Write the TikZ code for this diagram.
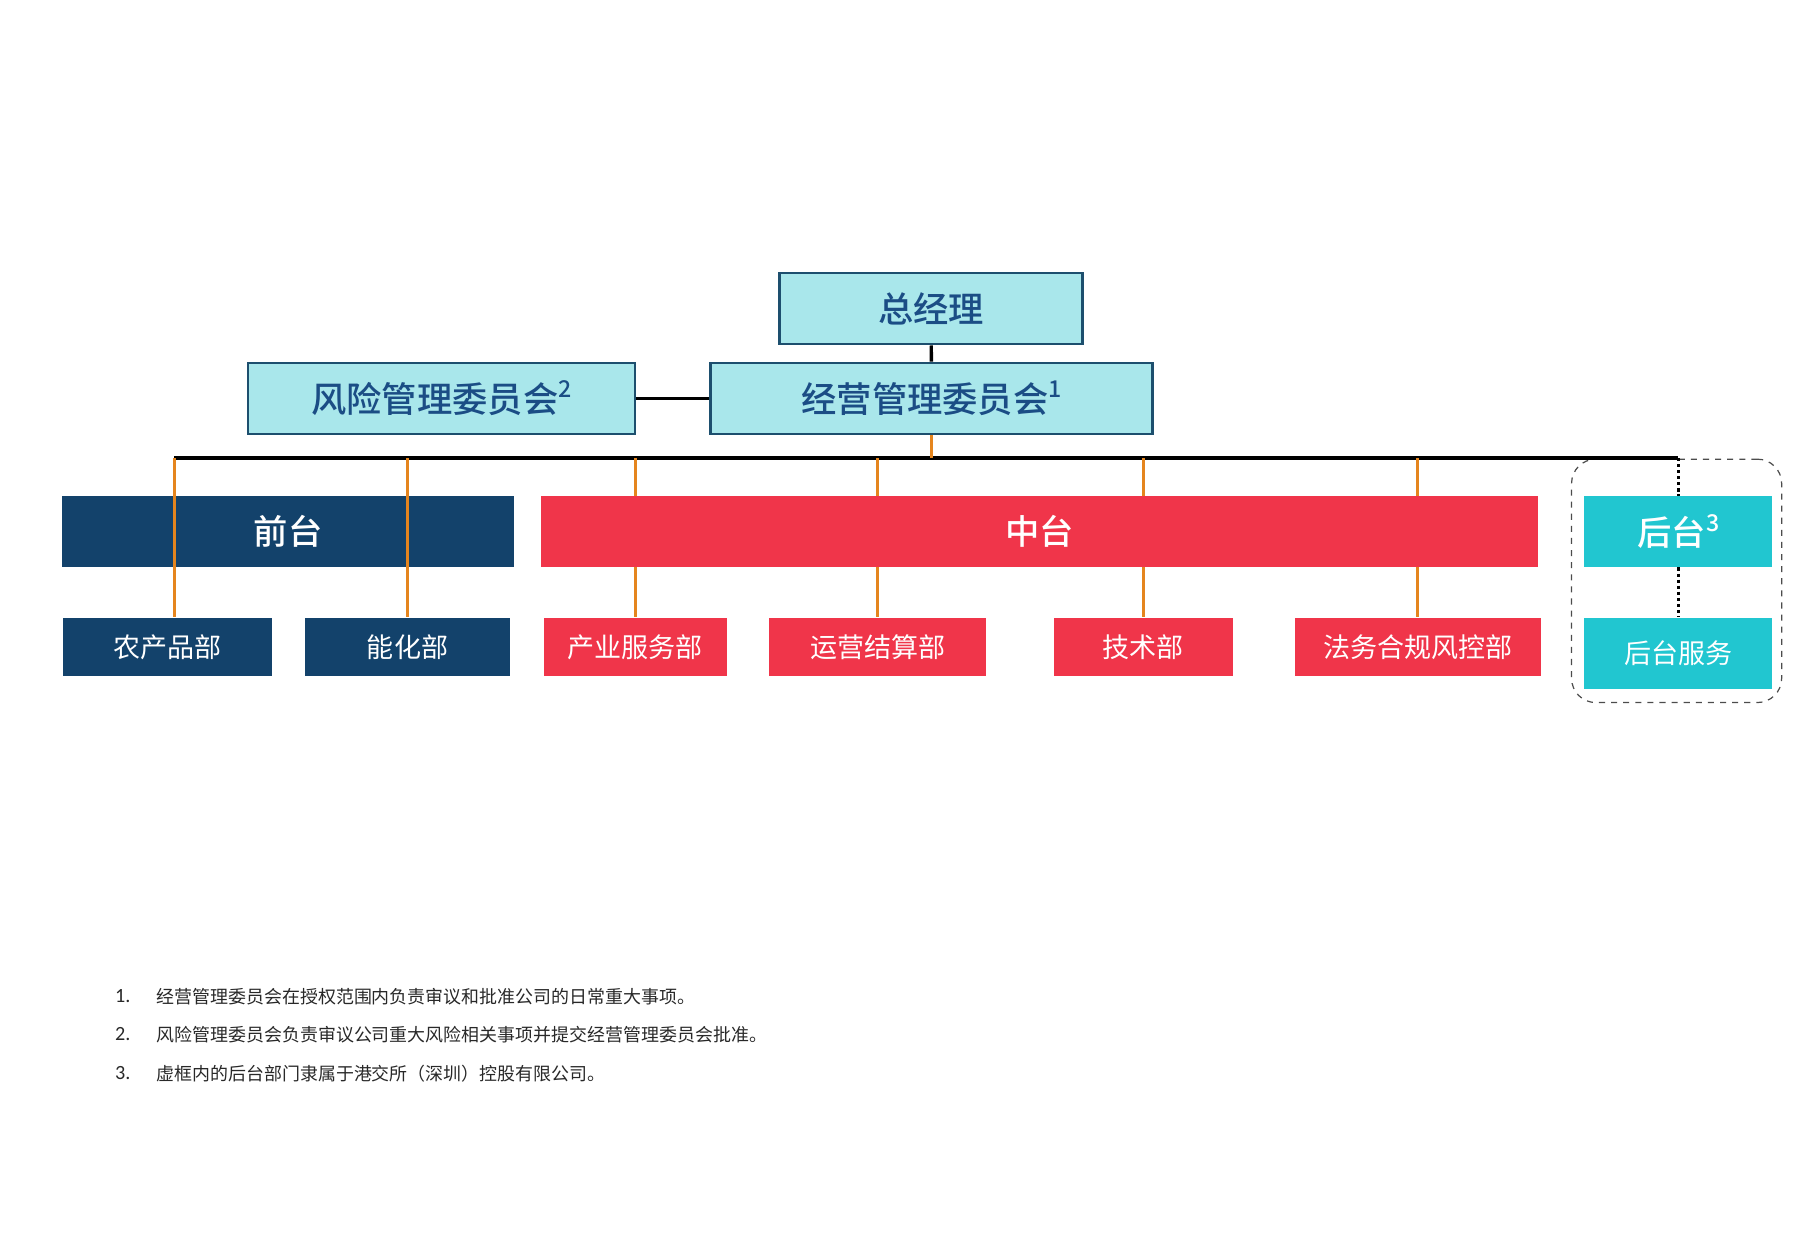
\documentclass[tikz,border=0pt]{standalone}
\usepackage{fontspec}
\setmainfont{Noto Sans CJK SC}[BoldFont={Noto Sans CJK SC Bold}]
\newfontfamily\medfont{Noto Sans CJK SC Medium}
\newfontfamily\numfont{Carlito}
\usepackage{tikz}
\usetikzlibrary{positioning, calc}
\definecolor{topcolor}{RGB}{169,231,235}
\definecolor{topborder}{RGB}{29,79,110}
\definecolor{toptext}{RGB}{27,77,133}
\definecolor{frontcolor}{RGB}{19,66,107}
\definecolor{middlecolor}{RGB}{240,53,74}
\definecolor{backcolor}{RGB}{33,198,208}
\definecolor{linkcolor}{RGB}{229,133,30}
\definecolor{notecolor}{RGB}{40,40,40}
\newcommand{\supnum}[1]{\raisebox{0.42em}{\medfont\fontsize{11.5pt}{12pt}\selectfont #1}}

\begin{document}
\begin{tikzpicture}[
    x=0.2mm, y=-0.2mm,
    board/.style={draw=topborder, line width=1.1pt, fill=topcolor, minimum height=12.4mm, inner sep=0pt, font=\fontsize{17.5pt}{20pt}\medfont, text=toptext},
    platform/.style={minimum height=12.4mm, inner sep=0pt, font=\fontsize{17pt}{20pt}\medfont, text=white},
    dept/.style={minimum height=10.2mm, inner sep=0pt, font=\fontsize{13.4pt}{16pt}\selectfont, text=white},
    busline/.style={line width=1.7pt, black},
    link/.style={line width=1.4pt, linkcolor},
    dotlink/.style={line width=1.7pt, black, dash pattern=on 1.6pt off 1.4pt},
    note/.style={anchor=west, inner sep=0pt, font=\fontsize{8.9pt}{11pt}\selectfont, text=notecolor}
]
    \useasboundingbox (0,0) rectangle (1568,1083);

    % Back office frame
    \node[draw=black!70, dashed, line width=0.6pt, rounded corners=12pt, minimum width=36.6mm, minimum height=42.4mm] (backframe) at (1460.5,506) {};

    % Management
    \node[board, minimum width=52.8mm] (gm) at (811,269) {总经理};
    \node[board, minimum width=77mm] (opcom) at (811.5,347) {经营管理委员会\supnum{1}};
    \node[board, minimum width=67.4mm] (riskcom) at (384.5,347) {风险管理委员会\supnum{2}};

    % Platforms
    \node[platform, fill=frontcolor, minimum width=78.8mm] (front) at (251,463) {前台};
    \node[platform, fill=middlecolor, minimum width=173.8mm] (middle) at (905.5,463) {中台};
    \node[platform, fill=backcolor, minimum width=32.8mm] (back) at (1462,463) {后台\supnum{3}};

    % Departments
    \node[dept, fill=frontcolor, minimum width=36.4mm] (agri) at (146,563.5) {农产品部};
    \node[dept, fill=frontcolor, minimum width=35.6mm] (energy) at (355,563.5) {能化部};
    \node[dept, fill=middlecolor, minimum width=31.8mm] (industry) at (553.5,563.5) {产业服务部};
    \node[dept, fill=middlecolor, minimum width=37.8mm] (settle) at (764.5,563.5) {运营结算部};
    \node[dept, fill=middlecolor, minimum width=31.2mm] (tech) at (996,563.5) {技术部};
    \node[dept, fill=middlecolor, minimum width=42.8mm] (legal) at (1235,563.5) {法务合规风控部};
    \node[dept, fill=backcolor, minimum width=32.8mm, minimum height=12.4mm] (backsvc) at (1462,569) {后台服务};

    % Bus
    \coordinate (busL) at (152,399);
    \coordinate (busR) at (back.north |- busL);
    \draw[busline] (gm) -- (opcom);
    \draw[busline] (riskcom) -- (opcom);
    \draw[busline] (busL) -- (busR);
    \draw[link] (opcom.south) -- (opcom.south |- busL);

    % Front office links
    \draw[link] (busL) -- (busL |- agri.north);
    \draw[link] (energy.north |- busL) -- (energy.north);

    % Middle office links
    \foreach \d in {industry, settle, tech, legal} {
        \draw[link] (\d.north |- busL) -- (\d.north |- middle.north);
        \draw[link] (\d.north |- middle.south) -- (\d.north);
    }

    % Back office links
    \draw[dotlink] (busR) -- (back.north);
    \draw[dotlink] (back.south) -- (backsvc.north);

    % Notes
    \node[note, font=\numfont\fontsize{10pt}{11pt}\selectfont] (n1) at (100,868) {1.};
    \node[note, font=\numfont\fontsize{10pt}{11pt}\selectfont] (n2) at (100,901) {2.};
    \node[note, font=\numfont\fontsize{10pt}{11pt}\selectfont] (n3) at (100,935) {3.};
    \node[note] at (136,868) {经营管理委员会在授权范围内负责审议和批准公司的日常重大事项。};
    \node[note] at (136,901) {风险管理委员会负责审议公司重大风险相关事项并提交经营管理委员会批准。};
    \node[note] at (136,935) {虚框内的后台部门隶属于港交所（深圳）控股有限公司。};
\end{tikzpicture}
\end{document}
